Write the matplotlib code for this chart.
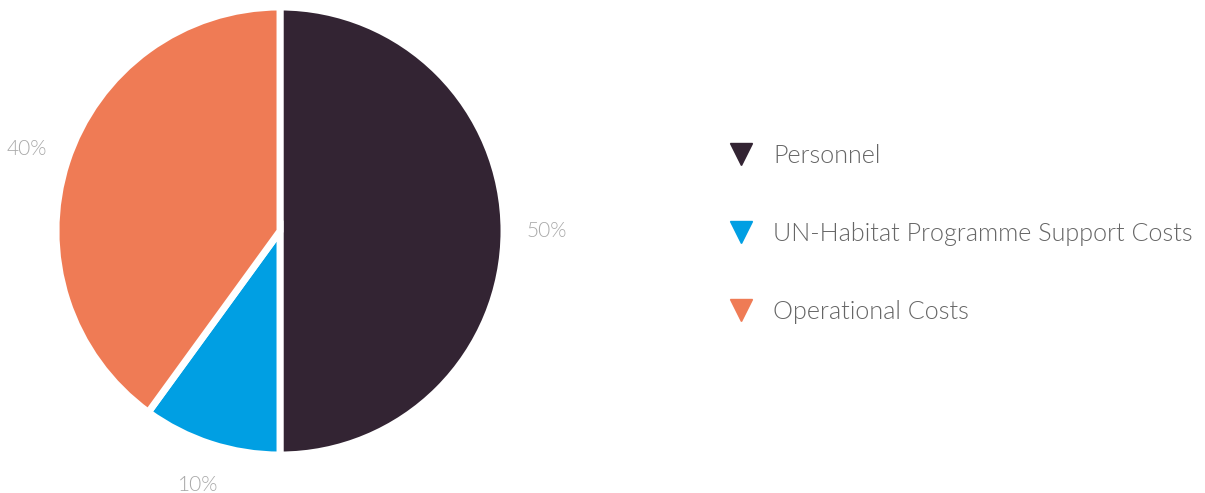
import matplotlib
matplotlib.use('Agg')
import matplotlib.pyplot as plt
from matplotlib.lines import Line2D

labels = ['Personnel', 'UN-Habitat Programme Support Costs', 'Operational Costs']
shares = [50, 10, 40]
colors = ['#332433', '#009fe3', '#ef7b55']

plt.rcParams['font.family'] = ['Lato', 'DejaVu Sans']

W, H = 1205, 493
fig = plt.figure(figsize=(W / 100, H / 100), dpi=100)

# square axes holding the pie: centre (280, 231) px, radius 224 px
cx, cy, r = 280, 231, 224
ax = fig.add_axes([(cx - r) / W, (H - cy - r) / H, 2 * r / W, 2 * r / H])

wedges, texts = ax.pie(
    shares, colors=colors, startangle=90, counterclock=False,
    labels=[f'{s}%' for s in shares], labeldistance=1.19,
    wedgeprops=dict(edgecolor='white', linewidth=5),
    textprops=dict(color='#a8a8a8', fontsize=15, fontweight=300),
)
for t in texts:
    t.set_ha('center')
    t.set_va('center')
ax.set_xlim(-1, 1)
ax.set_ylim(-1, 1)
ax.axis('off')

handles = [Line2D([], [], linestyle='none', marker='v', markersize=16,
                  color=c) for c in colors]
fig.legend(handles, labels, loc='upper left', bbox_to_anchor=(703 / W, 1 - 121 / H),
           frameon=False, prop=dict(size=18.1, weight=300),
           labelcolor='#666666', labelspacing=2.15, handletextpad=0.7,
           handlelength=1.2)

fig.savefig('out.png', dpi=100)
